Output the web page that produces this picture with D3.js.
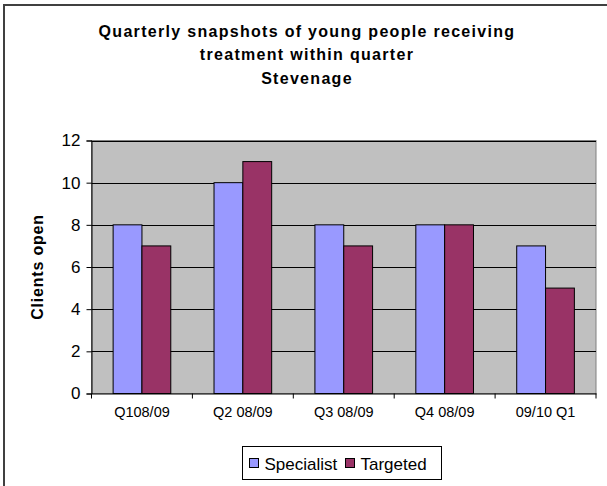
<!DOCTYPE html>
<html>
<head>
<meta charset="UTF-8">
<script src="https://d3js.org/d3.v7.min.js"></script>
<style>
body { margin: 0; background: #fff; }
text { font-family: "Liberation Sans", Arial, sans-serif; fill: #000; }
</style>
</head>
<body>
<svg width="607" height="486"></svg>
<script>
const quarters = ['Q108/09', 'Q2 08/09', 'Q3 08/09', 'Q4 08/09', '09/10 Q1'];
const specialist = [8, 10, 8, 8, 7];
const targeted = [7, 11, 7, 8, 5];
const seriesNames = ['Specialist', 'Targeted'];
const seriesColors = ['#9999ff', '#993366'];
const yTicks = [0, 2, 4, 6, 8, 10, 12];

const svg = d3.select('svg');
const font = '"Liberation Sans", Arial, sans-serif';

// outer chart border (right and bottom run off the picture)
svg.append('rect')
  .attr('x', 4).attr('y', 5)
  .attr('width', 620).attr('height', 500)
  .attr('fill', '#fff').attr('stroke', '#404040').attr('stroke-width', 2);

const plot = {left: 91.5, right: 596, top: 140.5, bottom: 393.5};

const x = d3.scaleBand().domain(quarters).range([plot.left, plot.right]);
const y = d3.scaleLinear().domain([0, 12]).range([plot.bottom, plot.top]);

// grey plot area
svg.append('rect')
  .attr('x', plot.left).attr('y', plot.top)
  .attr('width', plot.right - plot.left).attr('height', plot.bottom - plot.top)
  .attr('fill', '#c0c0c0').attr('stroke', '#808080');

// gridlines
svg.append('g').selectAll('line').data(yTicks.filter(d => d > 0))
  .join('line')
    .attr('x1', plot.left).attr('x2', plot.right)
    .attr('y1', d => Math.round(y(d)) + 0.5).attr('y2', d => Math.round(y(d)) + 0.5)
    .attr('stroke', '#000').attr('stroke-width', 1);

// bars: Excel style gap width 150%
const barW = x.bandwidth() / 3.5;
const data = quarters.map((q, i) => ({q, vals: [specialist[i], targeted[i]]}));
svg.append('g').selectAll('g').data(data)
  .join('g')
  .selectAll('rect').data(d => d.vals.map((v, k) => ({q: d.q, v, k})))
  .join('rect')
    .attr('x', d => x(d.q) + barW * 0.75 + d.k * barW)
    .attr('y', d => y(d.v))
    .attr('width', barW)
    .attr('height', d => y(0) - y(d.v))
    .attr('fill', d => seriesColors[d.k])
    .attr('stroke', '#000').attr('stroke-width', 1);

// y axis
const yAxis = svg.append('g')
  .attr('transform', `translate(${plot.left},0)`)
  .call(d3.axisLeft(y).tickValues(yTicks).tickSize(5).tickPadding(6).tickFormat(d3.format('d')));
yAxis.select('.domain').attr('stroke', '#000');
yAxis.selectAll('.tick line').attr('stroke', '#000');
yAxis.selectAll('text').attr('font-size', 17).style('font-family', font);

// x axis
const xAxis = svg.append('g')
  .attr('transform', `translate(0,${plot.bottom})`)
  .call(d3.axisBottom(x).tickSize(0).tickPadding(13));
xAxis.select('.domain').attr('stroke', '#000');
xAxis.selectAll('text').attr('font-size', 14.5).style('font-family', font);
// tick marks between categories
svg.append('g').selectAll('line').data(d3.range(quarters.length + 1))
  .join('line')
    .attr('x1', i => plot.left + i * x.step()).attr('x2', i => plot.left + i * x.step())
    .attr('y1', plot.bottom).attr('y2', plot.bottom + 5)
    .attr('stroke', '#000');

// title
const title = svg.append('text')
  .attr('text-anchor', 'middle')
  .attr('font-size', 16).attr('font-weight', 'bold')
  .attr('letter-spacing', 1.3);
['Quarterly snapshots of young people receiving', 'treatment within quarter', 'Stevenage']
  .forEach((t, i) => title.append('tspan').attr('x', 307).attr('y', 36.5 + i * 23.7).text(t));

// y axis label
svg.append('text')
  .attr('transform', `translate(43,${(plot.top + plot.bottom) / 2}) rotate(-90)`)
  .attr('text-anchor', 'middle')
  .attr('font-size', 16).attr('font-weight', 'bold')
  .attr('letter-spacing', 0.8)
  .text('Clients open');

// legend
const legend = svg.append('g').attr('transform', 'translate(242.5,446.5)');
legend.append('rect')
  .attr('width', 199).attr('height', 33)
  .attr('fill', '#fff').attr('stroke', '#000');
const legX = [7, 103];
seriesNames.forEach((name, k) => {
  legend.append('rect')
    .attr('x', legX[k]).attr('y', 12).attr('width', 9).attr('height', 9)
    .attr('fill', seriesColors[k]).attr('stroke', '#000');
  legend.append('text')
    .attr('x', legX[k] + 15).attr('y', 23)
    .attr('font-size', 17)
    .text(name);
});
</script>
</body>
</html>
